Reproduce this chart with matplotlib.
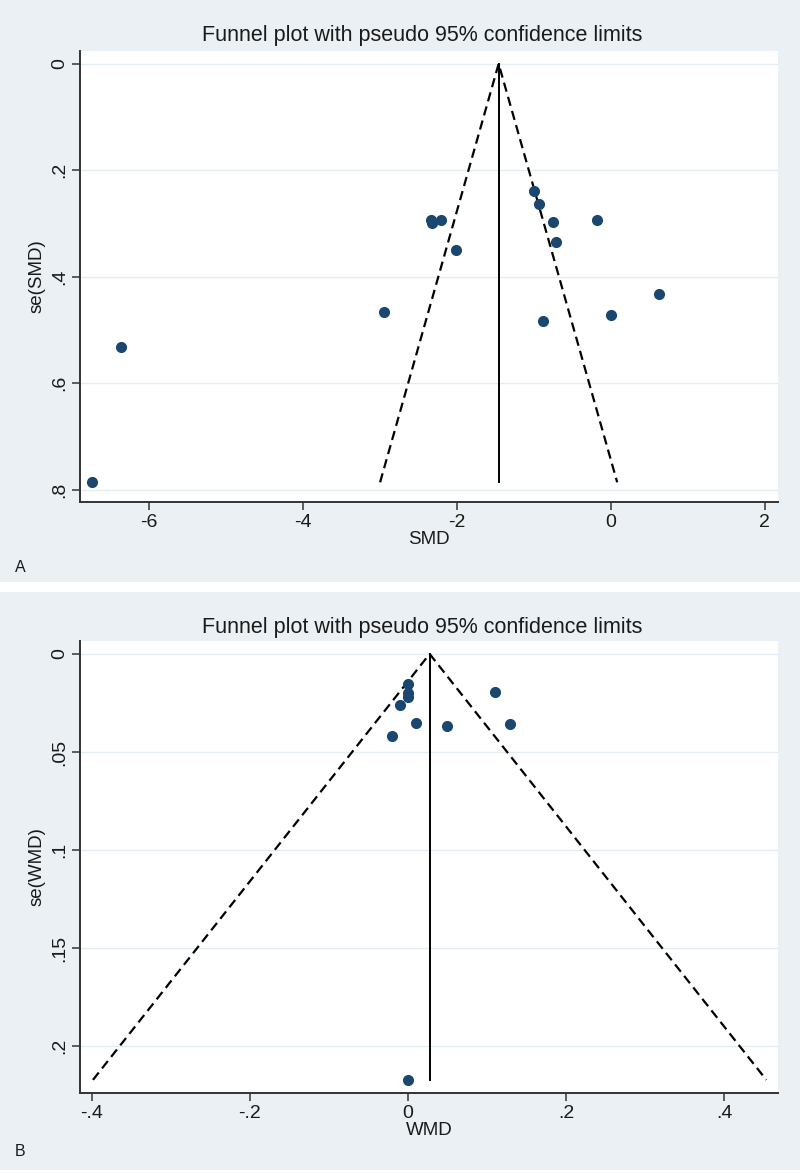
import matplotlib
matplotlib.use("Agg")
import matplotlib.pyplot as plt
from matplotlib.patches import Rectangle

plt.rcParams['font.family'] = ['Liberation Sans', 'DejaVu Sans']

# panel A: standardised mean difference and its standard error
smd = [-1.00, -0.93, -2.34, -2.32, -2.21, -0.75, -0.18, -0.71, -2.01,
       0.62, -2.95, 0.00, -0.88, -6.37, -6.74]
se_smd = [0.239, 0.264, 0.293, 0.299, 0.293, 0.297, 0.294, 0.334, 0.350,
          0.432, 0.466, 0.472, 0.484, 0.531, 0.786]
pooled_smd = -1.46

# panel B: weighted mean difference and its standard error
wmd = [0.000, 0.000, 0.000, -0.010, 0.110, 0.010, 0.049, 0.129, -0.020, 0.000]
se_wmd = [0.0153, 0.0200, 0.0218, 0.0259, 0.0192, 0.0352, 0.0369, 0.0356,
          0.0417, 0.2173]
pooled_wmd = 0.0273

xticks_a = [-6, -4, -2, 0, 2]
xlabels_a = ["-6", "-4", "-2", "0", "2"]
yticks_a = [0, 0.2, 0.4, 0.6, 0.8]
ylabels_a = ["0", ".2", ".4", ".6", ".8"]
xticks_b = [-0.4, -0.2, 0, 0.2, 0.4]
xlabels_b = ["-.4", "-.2", "0", ".2", ".4"]
yticks_b = [0, 0.05, 0.1, 0.15, 0.2]
ylabels_b = ["0", ".05", ".1", ".15", ".2"]

BG = "#eaf0f4"
GRID = "#e4edf1"
DOT = "#1a476f"
AXC = "#333333"
TXT = "#1a1a1a"

W, H = 800, 1173
fig = plt.figure(figsize=(W / 100, H / 100), dpi=100)

# light outer backgrounds of the two panels
fig.patches.append(Rectangle((0, 1 - 582 / H), 1, 582 / H, transform=fig.transFigure,
                             facecolor=BG, edgecolor="none", zorder=-10))
fig.patches.append(Rectangle((0, 1 - 1170 / H), 1, (1170 - 592) / H, transform=fig.transFigure,
                             facecolor=BG, edgecolor="none", zorder=-10))


def funnel(ax, x, se, pooled, xlim, ylim, xt, xl, yt, yl, xlabel, ylabel):
    semax = max(se)
    for t in yt:
        ax.axhline(t, color=GRID, lw=1.0, zorder=0)
    ax.plot([pooled - 1.96 * semax, pooled, pooled + 1.96 * semax], [semax, 0, semax],
            color="black", lw=1.6, dashes=(4.2, 2.4), zorder=2)
    ax.plot([pooled, pooled], [0, semax], color="black", lw=1.4, zorder=2)
    ax.plot(x, se, "o", color=DOT, ms=7, mec=DOT, zorder=3)
    ax.set_xlim(xlim)
    ax.set_ylim(ylim)
    ax.set_xticks(xt)
    ax.set_xticklabels(xl)
    ax.set_yticks(yt)
    ax.set_yticklabels(yl, rotation=90, va="center")
    ax.spines["top"].set_visible(False)
    ax.spines["right"].set_visible(False)
    for s in ("left", "bottom"):
        ax.spines[s].set_color(AXC)
        ax.spines[s].set_linewidth(1.4)
    ax.tick_params(direction="out", length=5.5, width=1.1, color=AXC,
                   labelsize=14, labelcolor=TXT, pad=3)
    ax.set_xlabel(xlabel, fontsize=13.5, color=TXT, labelpad=0)
    ax.set_ylabel(ylabel, fontsize=13.5, color=TXT, labelpad=4)


ax1 = fig.add_axes([80 / W, 1 - 502 / H, (778 - 80) / W, (502 - 51) / H])
funnel(ax1, smd, se_smd, pooled_smd, (-6.9, 2.17), (0.823, -0.024),
       xticks_a, xlabels_a, yticks_a, ylabels_a, "SMD", "se(SMD)")

ax2 = fig.add_axes([80 / W, 1 - 1093 / H, (778 - 80) / W, (1093 - 641) / H])
funnel(ax2, wmd, se_wmd, pooled_wmd, (-0.415, 0.468), (0.224, -0.0066),
       xticks_b, xlabels_b, yticks_b, ylabels_b, "WMD", "se(WMD)")

title = "Funnel plot with pseudo 95% confidence limits"
fig.text(422 / W, 1 - 35 / H, title, ha="center", va="center", fontsize=15.5, color=TXT)
fig.text(422 / W, 1 - 627 / H, title, ha="center", va="center", fontsize=15.5, color=TXT)
fig.text(20 / W, 1 - 567 / H, "A", ha="center", va="center", fontsize=11.5, color=TXT)
fig.text(20 / W, 1 - 1152 / H, "B", ha="center", va="center", fontsize=11.5, color=TXT)

fig.savefig("out.png", dpi=100)
